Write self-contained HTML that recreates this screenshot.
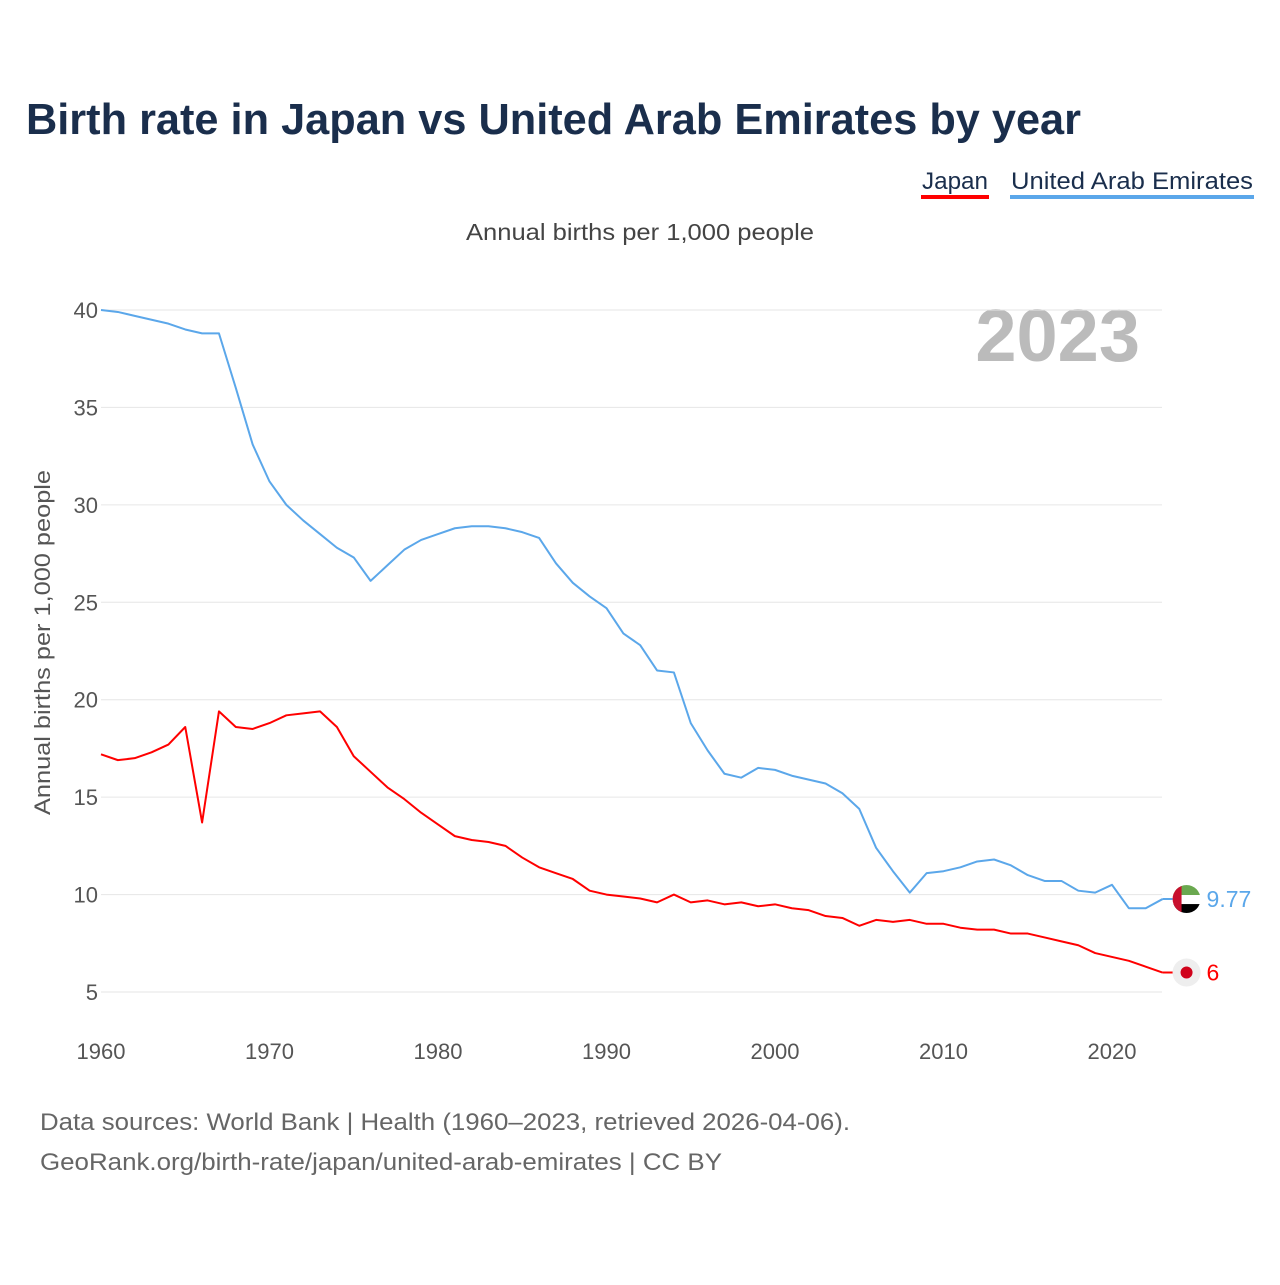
<!DOCTYPE html>
<html><head><meta charset="utf-8"><style>
body{margin:0;background:#fff;font-family:"Liberation Sans",sans-serif}
svg text{font-family:"Liberation Sans",sans-serif}
</style></head><body>
<svg id="c" width="1280" height="1280" viewBox="0 0 1280 1280" xmlns="http://www.w3.org/2000/svg">
<rect width="1280" height="1280" fill="#fff"/>
<text x="26" y="134" font-size="44" font-weight="bold" fill="#1a2e4c" textLength="1055" lengthAdjust="spacingAndGlyphs">Birth rate in Japan vs United Arab Emirates by year</text>
<g><text x="922" y="189" font-size="24" fill="#1a2e4c" textLength="66" lengthAdjust="spacingAndGlyphs">Japan</text><rect x="921" y="195" width="68" height="4" fill="#ff0000"/></g>
<g><text x="1011" y="189" font-size="24" fill="#1a2e4c" textLength="242" lengthAdjust="spacingAndGlyphs">United Arab Emirates</text><rect x="1010" y="195" width="244" height="4" fill="#5ba7ea"/></g>
<text x="466" y="240" font-size="23" fill="#444" textLength="348" lengthAdjust="spacingAndGlyphs">Annual births per 1,000 people</text>
<text x="1140" y="361" font-size="74" font-weight="bold" fill="#bbb" text-anchor="end">2023</text>
<text transform="translate(50,815) rotate(-90)" font-size="22" fill="#555" textLength="345" lengthAdjust="spacingAndGlyphs">Annual births per 1,000 people</text>
<g id="grid"></g><g id="lines"></g>
<text x="40" y="1130" font-size="24" fill="#666" textLength="810" lengthAdjust="spacingAndGlyphs">Data sources: World Bank | Health (1960–2023, retrieved 2026-04-06).</text>
<text x="40" y="1170" font-size="24" fill="#666" textLength="682" lengthAdjust="spacingAndGlyphs">GeoRank.org/birth-rate/japan/united-arab-emirates | CC BY</text>
</svg>
<script>
const years=[];for(let y=1960;y<=2023;y++)years.push(y);
const uae=[40.0,39.9,39.7,39.5,39.3,39.0,38.8,38.8,36.0,33.1,31.2,30.0,29.2,28.5,27.8,27.3,26.1,26.9,27.7,28.2,28.5,28.8,28.9,28.9,28.8,28.6,28.3,27.0,26.0,25.3,24.7,23.4,22.8,21.5,21.4,18.8,17.4,16.2,16.0,16.5,16.4,16.1,15.9,15.7,15.2,14.4,12.4,11.2,10.1,11.1,11.2,11.4,11.7,11.8,11.5,11.0,10.7,10.7,10.2,10.1,10.5,9.3,9.3,9.77];
const japan=[17.2,16.9,17.0,17.3,17.7,18.6,13.7,19.4,18.6,18.5,18.8,19.2,19.3,19.4,18.6,17.1,16.3,15.5,14.9,14.2,13.6,13.0,12.8,12.7,12.5,11.9,11.4,11.1,10.8,10.2,10.0,9.9,9.8,9.6,10.0,9.6,9.7,9.5,9.6,9.4,9.5,9.3,9.2,8.9,8.8,8.4,8.7,8.6,8.7,8.5,8.5,8.3,8.2,8.2,8.0,8.0,7.8,7.6,7.4,7.0,6.8,6.6,6.3,6.0];
const yTicks=[5,10,15,20,25,30,35,40];
const xTicks=[1960,1970,1980,1990,2000,2010,2020];
const X=v=>101+(v-1960)*16.85, Y=v=>310+(40-v)*19.486;
const NS="http://www.w3.org/2000/svg";
const grid=document.getElementById('grid'),lines=document.getElementById('lines');
function mk(t,a,p){const e=document.createElementNS(NS,t);for(const k in a)e.setAttribute(k,a[k]);p.appendChild(e);return e;}
yTicks.forEach(v=>{
 const l=mk('line',{x1:101,x2:1162,y1:Y(v),y2:Y(v),stroke:'#e6e6e6','stroke-width':1},grid);
 
 
 const t=mk('text',{x:98,y:Y(v)+8,'font-size':22,fill:'#555','text-anchor':'end'},grid);t.textContent=v;
 
 
});
xTicks.forEach(v=>{
 const t=mk('text',{x:X(v),y:1059,'font-size':22,fill:'#555','text-anchor':'middle'},grid);t.textContent=v;
 
 
});
function series(d,c,name){
 const p=mk('polyline',{points:d.map((v,i)=>X(years[i])+','+Y(v)).join(' '),fill:'none',stroke:c,'stroke-width':2,'stroke-linejoin':'round'},lines);
 
 
}
series(uae,'#5ba7ea','uae-line');series(japan,'#ff0000','japan-line');
const lu=uae[uae.length-1],lj=japan[japan.length-1],lx=X(2023);
mk('line',{x1:lx,x2:lx+25,y1:Y(lu),y2:Y(lu),stroke:'#5ba7ea','stroke-width':2},lines);
mk('line',{x1:lx,x2:lx+25,y1:Y(lj),y2:Y(lj),stroke:'#ff0000','stroke-width':2},lines);
const fu=mk('g',{},lines);


const cx=lx+24,cy=Y(lu);
mk('clipPath',{id:'fc'},fu);mk('circle',{cx:cx,cy:cy,r:14},fu.lastChild);
const fg=mk('g',{'clip-path':'url(#fc)'},fu);
mk('rect',{x:cx-14,y:cy-14,width:28,height:10,fill:'#6aa84f'},fg);
mk('rect',{x:cx-14,y:cy-4,width:28,height:9,fill:'#fff'},fg);
mk('rect',{x:cx-14,y:cy+5,width:28,height:9,fill:'#000'},fg);
mk('rect',{x:cx-14,y:cy-14,width:9,height:28,fill:'#c8102e'},fg);
const fj=mk('g',{},lines);


mk('circle',{cx:lx+24,cy:Y(lj),r:14,fill:'#eee'},fj);
mk('circle',{cx:lx+24,cy:Y(lj),r:6,fill:'#d0021b'},fj);
const vu=mk('text',{x:lx+44,y:Y(lu)+8,'font-size':23,fill:'#5ba7ea'},lines);vu.textContent=lu;


const vj=mk('text',{x:lx+44,y:Y(lj)+8,'font-size':23,fill:'#ff0000'},lines);vj.textContent=lj;


</script>
</body></html>
